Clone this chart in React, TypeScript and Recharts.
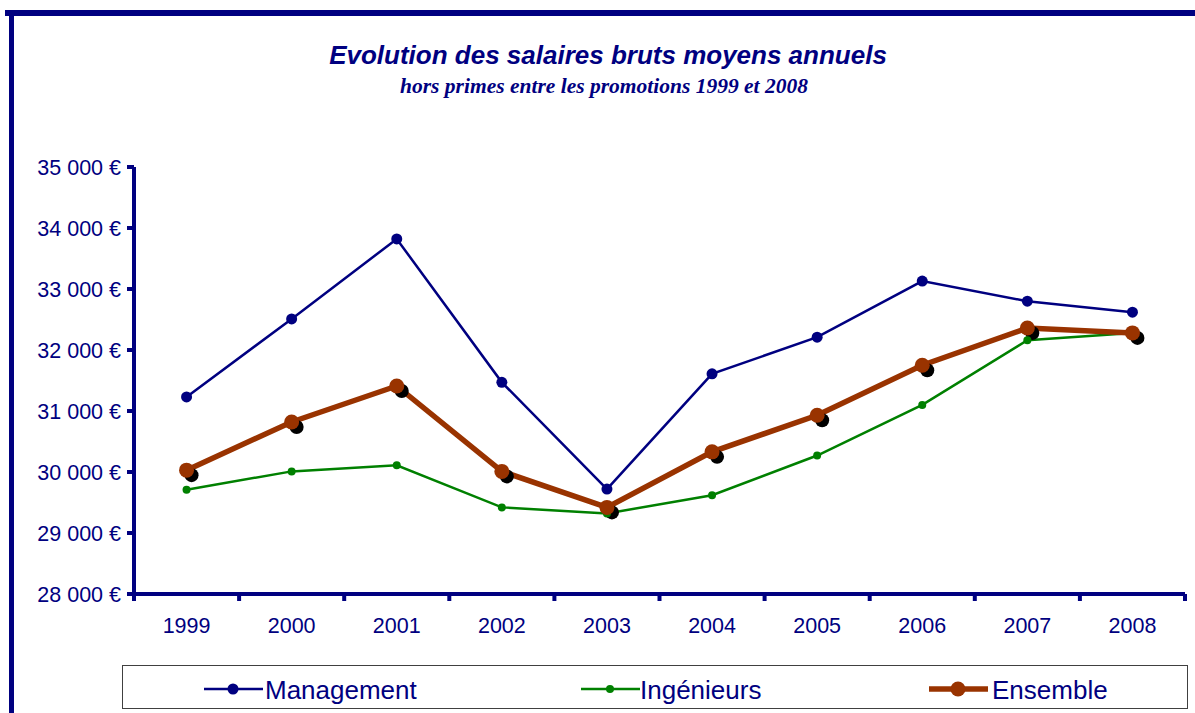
import React from "react";
import { LineChart, Line, XAxis, YAxis } from "recharts";

const years = ["1999", "2000", "2001", "2002", "2003", "2004", "2005", "2006", "2007", "2008"];
const management = [31230, 32510, 33820, 31470, 29720, 31610, 32210, 33130, 32800, 32620];
const ingenieurs = [29710, 30010, 30110, 29420, 29320, 29620, 30270, 31100, 32160, 32280];
const ensemble = [30030, 30820, 31410, 30010, 29420, 30330, 30930, 31750, 32360, 32280];
const yTicks = [28000, 29000, 30000, 31000, 32000, 33000, 34000, 35000];

const NAVY = "#000080";
const GREEN = "#008000";
const BROWN = "#993300";
const FONT = "'Liberation Sans', Arial, sans-serif";

// x = centre of each year's band, band edges carry the tick marks
const data = years.map((year, i) => ({
  pos: i + 0.5,
  year,
  management: management[i],
  ingenieurs: ingenieurs[i],
  ensemble: ensemble[i],
}));
const edgeTicks = years.map((_, i) => i).concat([years.length]);
const centreTicks = data.map((d) => d.pos);

const fmtEuro = (v: number) => `${Math.round(v / 1000)} 000 €`;
const fmtYear = (v: number) => years[Math.floor(v)] ?? "";

const legendItems = [
  { name: "Management", color: NAVY, width: 2.5, r: 5.5, left: 81, text: 142 },
  { name: "Ingénieurs", color: GREEN, width: 2.5, r: 4, left: 458, text: 517 },
  { name: "Ensemble", color: BROWN, width: 5.5, r: 7.5, left: 806, text: 869 },
];

const ShadowDot = (props: any) => {
  const { cx, cy, index } = props;
  if (cx == null || cy == null) return null;
  return <circle key={`sh-${index}`} cx={cx + 5} cy={cy + 5} r={7} fill="#000" />;
};

const axisStroke = { stroke: NAVY, strokeWidth: 4 };

export default function App() {
  return (
    <div style={{ position: "absolute", left: 0, top: 0, width: 1195, height: 713, background: "#fff", overflow: "hidden" }}>
      {/* frame */}
      <div style={{ position: "absolute", left: 5, top: 10, width: 1190, height: 6, background: NAVY }} />
      <div style={{ position: "absolute", left: 9, top: 10, width: 5, height: 703, background: NAVY }} />

      <div
        style={{
          position: "absolute", left: 608, top: 42, transform: "translateX(-50%)", whiteSpace: "nowrap",
          fontFamily: FONT, fontWeight: "bold", fontStyle: "italic", fontSize: 26, lineHeight: 1, color: NAVY,
        }}
      >
        Evolution des salaires bruts moyens annuels
      </div>
      <div
        style={{
          position: "absolute", left: 604, top: 76, transform: "translateX(-50%)", whiteSpace: "nowrap",
          fontFamily: "'Liberation Serif', 'Times New Roman', serif", fontWeight: "bold", fontStyle: "italic",
          fontSize: 21.5, lineHeight: 1, color: NAVY,
        }}
      >
        hors primes entre les promotions 1999 et 2008
      </div>

      <div style={{ position: "absolute", left: 0, top: 0 }}>
        <LineChart width={1195} height={713} data={data} margin={{ top: 167, right: 10, bottom: 71, left: 14 }}>
          <XAxis
            xAxisId="a"
            dataKey="pos"
            type="number"
            domain={[0, years.length]}
            ticks={edgeTicks}
            tickFormatter={() => ""}
            height={8}
            tickSize={7}
            axisLine={axisStroke}
            tickLine={axisStroke}
          />
          <XAxis
            xAxisId="b"
            dataKey="pos"
            type="number"
            domain={[0, years.length]}
            ticks={centreTicks}
            tickFormatter={fmtYear}
            height={40}
            tickSize={0}
            tickMargin={16}
            axisLine={false}
            tickLine={false}
            tick={{ fill: NAVY, fontSize: 21.5, fontFamily: FONT }}
          />
          <YAxis
            type="number"
            domain={[28000, 35000]}
            ticks={yTicks}
            tickFormatter={fmtEuro}
            width={120}
            tickSize={7}
            tickMargin={6}
            axisLine={axisStroke}
            tickLine={axisStroke}
            tick={{ fill: NAVY, fontSize: 21.5, fontFamily: FONT }}
          />
          <Line
            xAxisId="a"
            dataKey="ensemble"
            stroke="none"
            dot={<ShadowDot />}
            activeDot={false}
            legendType="none"
            isAnimationActive={false}
          />
          <Line
            xAxisId="a"
            dataKey="management"
            stroke={NAVY}
            strokeWidth={2.5}
            dot={{ r: 5.5, fill: NAVY, stroke: NAVY, strokeWidth: 0 }}
            isAnimationActive={false}
          />
          <Line
            xAxisId="a"
            dataKey="ingenieurs"
            stroke={GREEN}
            strokeWidth={2.5}
            dot={{ r: 4, fill: GREEN, stroke: GREEN, strokeWidth: 0 }}
            isAnimationActive={false}
          />
          <Line
            xAxisId="a"
            dataKey="ensemble"
            stroke={BROWN}
            strokeWidth={5.5}
            dot={{ r: 7.5, fill: BROWN, stroke: BROWN, strokeWidth: 0 }}
            isAnimationActive={false}
          />
        </LineChart>
      </div>

      {/* legend */}
      <div
        style={{
          position: "absolute", left: 122, top: 665, width: 1066, height: 44,
          border: "1px solid #404040", boxSizing: "border-box", background: "#fff",
        }}
      >
        {legendItems.map((it) => (
          <React.Fragment key={it.name}>
            <svg style={{ position: "absolute", left: it.left, top: 10, overflow: "visible" }} width={59} height={22}>
              <line x1={0} y1={13} x2={59} y2={13} stroke={it.color} strokeWidth={it.width} />
              <circle cx={29} cy={13} r={it.r} fill={it.color} />
            </svg>
            <div
              style={{
                position: "absolute", left: it.text, top: 11, fontFamily: FONT, fontSize: 26,
                lineHeight: 1, color: NAVY, whiteSpace: "nowrap",
              }}
            >
              {it.name}
            </div>
          </React.Fragment>
        ))}
      </div>
    </div>
  );
}
